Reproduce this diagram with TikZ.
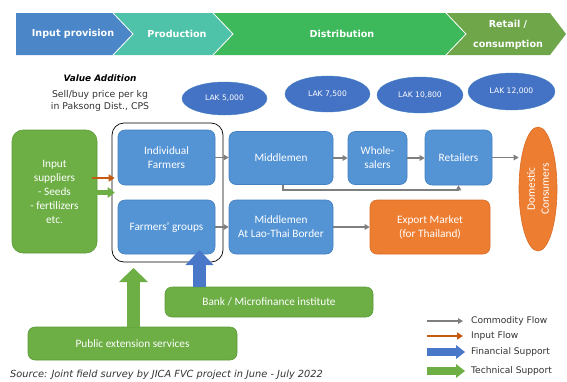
\documentclass[tikz,border=0pt]{standalone}
\usepackage{fontspec}
\setmainfont{Carlito}
\newfontfamily\dv{DejaVu Sans}
\usetikzlibrary{arrows.meta,shapes.geometric,calc}
\definecolor{bnblue}{HTML}{4A86C8}
\definecolor{bnteal}{HTML}{4FC3A9}
\definecolor{bngreen}{HTML}{3DB95B}
\definecolor{bnolive}{HTML}{6FA64A}
\definecolor{boxblue}{HTML}{5494D5}
\definecolor{boxblueD}{HTML}{4380C2}
\definecolor{boxgreen}{HTML}{6DAE45}
\definecolor{boxgreenD}{HTML}{5E9C3A}
\definecolor{orng}{HTML}{ED7D31}
\definecolor{orngD}{HTML}{D96C25}
\definecolor{elblue}{HTML}{4472C4}
\definecolor{arblue}{HTML}{4A78C8}
\definecolor{flowgray}{HTML}{7F7F7F}
\definecolor{inorange}{HTML}{C55A11}
\definecolor{txtgray}{HTML}{333333}
\begin{document}
\begin{tikzpicture}[x=1pt,y=-1pt,
  bx/.style={draw=boxblueD, fill=boxblue, rounded corners=7pt, text=white, align=center,
    font=\fontsize{11.3}{14}\selectfont, inner sep=0pt, line width=0.6pt},
  gbx/.style={bx, draw=boxgreenD, fill=boxgreen},
  obx/.style={bx, draw=orngD, fill=orng},
  lak/.style={ellipse, fill=elblue, draw=boxblueD, text=white, font=\dv\fontsize{7.6}{9}\selectfont, inner sep=0pt},
  flow/.style={draw=flowgray, line width=1.6pt, -{Triangle[length=5pt,width=5.5pt]}},
  inflow/.style={draw=inorange, line width=2.4pt, -{Triangle[length=6pt,width=7pt]}},
  bnt/.style={text=white, font=\dv\bfseries\fontsize{9.6}{20}\selectfont, align=center},
  legtext/.style={anchor=west, inner sep=0pt, text=txtgray, font=\dv\fontsize{9.1}{11}\selectfont},
]
\fill[white] (0,0) rectangle (567,381);
\useasboundingbox (0,0) rectangle (567,381);

% banner
\fill[bnblue] (16,13) -- (113,13) -- (133,34) -- (113,55) -- (16,55) -- cycle;
\fill[bnteal] (113,13) -- (213,13) -- (233,34) -- (213,55) -- (113,55) -- (133,34) -- cycle;
\fill[bngreen] (213,13) -- (446,13) -- (466,34) -- (446,55) -- (213,55) -- (233,34) -- cycle;
\fill[bnolive] (446,13) -- (550,13) -- (566,34) -- (550,55) -- (446,55) -- (466,34) -- cycle;
\draw[white, line width=0.8pt] (113,13) -- (133,34) -- (113,55);
\draw[white, line width=0.8pt] (213,13) -- (233,34) -- (213,55);
\draw[white, line width=0.8pt] (446,13) -- (466,34) -- (446,55);
\node[bnt] (b1) at (73,34) {Input provision};
\node[bnt] (b2) at (177,34) {Production};
\node[bnt] (b3) at (342,34) {Distribution};
\node[bnt] (b4) at (508,35) {Retail /\\consumption};

% value addition
\node[font=\dv\bfseries\itshape\fontsize{8.9}{11}\selectfont] (va) at (100,78) {Value Addition};
\node[font=\dv\fontsize{9.3}{12}\selectfont, text=txtgray, align=center] (sb) at (100,101) {Sell/buy price per kg\\in Paksong Dist., CPS};

\node[lak, minimum width=85pt, minimum height=33pt] (l1) at (224.5,98.5) {LAK 5,000};
\node[lak, minimum width=85pt, minimum height=36pt] (l2) at (327.5,94) {LAK 7,500};
\node[lak, minimum width=86pt, minimum height=36pt] (l3) at (420,95) {LAK 10,800};
\node[lak, minimum width=87pt, minimum height=37pt] (l4) at (511.5,91.5) {LAK 12,000};

% boxes
\node[gbx, rounded corners=11pt, minimum width=85pt, minimum height=123pt] (inp) at (54.5,191.5) {Input\\suppliers\\- Seeds\\- fertilizers\\etc.};
\node[draw=black, line width=0.7pt, rounded corners=12pt, minimum width=111pt, minimum height=139pt, inner sep=0pt] (grp) at (167.5,192.5) {};
\node[bx, minimum width=97pt, minimum height=55pt] (if) at (166.5,157.5) {Individual\\Farmers};
\node[bx, minimum width=97pt, minimum height=54pt] (fg) at (166.5,227) {Farmers’ groups};
\node[bx, minimum width=104pt, minimum height=53pt] (mm) at (281,158) {Middlemen};
\node[bx, minimum width=104pt, minimum height=54pt] (mb) at (281,227) {Middlemen\\At Lao-Thai Border};
\node[bx, minimum width=59pt, minimum height=53pt] (ws) at (377.5,158) {Whole-\\salers};
\node[bx, minimum width=67pt, minimum height=55pt] (rt) at (458.5,157.5) {Retailers};
\node[obx, minimum width=120pt, minimum height=54pt] (ex) at (430,227) {Export Market\\(for Thailand)};
\node[ellipse, fill=orng, draw=orngD, line width=0.6pt, text=white, rotate=90, minimum width=124pt, minimum height=38pt,
  inner sep=0pt, align=center, font=\fontsize{11.3}{14}\selectfont] (dc) at (538,189) {Domestic\\Consumers};
\node[gbx, minimum width=208pt, minimum height=30pt] (bank) at (269,302) {Bank / Microfinance institute};
\node[gbx, minimum width=209pt, minimum height=33pt] (pub) at (132.5,343.5) {Public extension services};

% commodity flows
\draw[flow] (if.east) -- (if.east -| mm.west);
\draw[flow] (mm.east) -- (mm.east -| ws.west);
\draw[flow] (ws.east) -- (ws.east -| rt.west);
\draw[flow] (rt.east) -- (rt.east -| dc.north);
\draw[flow] (fg.east) -- (fg.east -| mb.west);
\draw[flow] (mb.east) -- (mb.east -| ex.west);
\coordinate (byl) at (283,190);
\draw[flow] (mm.south -| byl) |- (rt.south |- byl) -- (rt.south);

% input flows
\coordinate (ofl) at (0,178);
\draw[inflow] ($(inp.east |- ofl)+(-5,0)$) -- ($(grp.west |- ofl)+(3,0)$);
\draw[boxgreen, line width=4.5pt, -{Triangle[length=7pt,width=11pt,line width=0pt]}] ($(inp.east |- grp.west)+(-5,0)$) -- ($(grp.west)+(3,0)$);

% support arrows
\coordinate (gtip) at (133.5,268);
\draw[boxgreen, line width=13pt, -{Triangle[length=14pt,width=29pt,line width=0pt]}] (pub.north -| gtip) -- (gtip);
\coordinate (btip) at (199.5,250);
\draw[arblue, line width=13pt, -{Triangle[length=15pt,width=28pt,line width=0pt]}] (bank.north -| btip) -- (btip);

% source
\node[anchor=west, inner sep=0pt, text=txtgray, font=\dv\itshape\fontsize{9.8}{11}\selectfont] (src) at (10,375)
  {Source: Joint field survey by JICA FVC project in June - July 2022};

% legend
\node[legtext] (lt1) at (471,321) {Commodity Flow};
\node[legtext] (lt2) at (471,336) {Input Flow};
\node[legtext] (lt3) at (471,352) {Financial Support};
\node[legtext] (lt4) at (471,371) {Technical Support};
\draw[flow] ($(lt1.west)+(-44,0)$) -- ($(lt1.west)+(-8,0)$);
\draw[inflow, line width=2pt] ($(lt2.west)+(-44,0)$) -- ($(lt2.west)+(-8,0)$);
\draw[arblue, line width=8pt, -{Triangle[length=9pt,width=14pt,line width=0pt]}] ($(lt3.west)+(-44,0)$) -- ($(lt3.west)+(-6,0)$);
\draw[boxgreen, line width=8pt, -{Triangle[length=9pt,width=14pt,line width=0pt]}] ($(lt4.west)+(-44,0)$) -- ($(lt4.west)+(-6,0)$);
\end{tikzpicture}
\end{document}
